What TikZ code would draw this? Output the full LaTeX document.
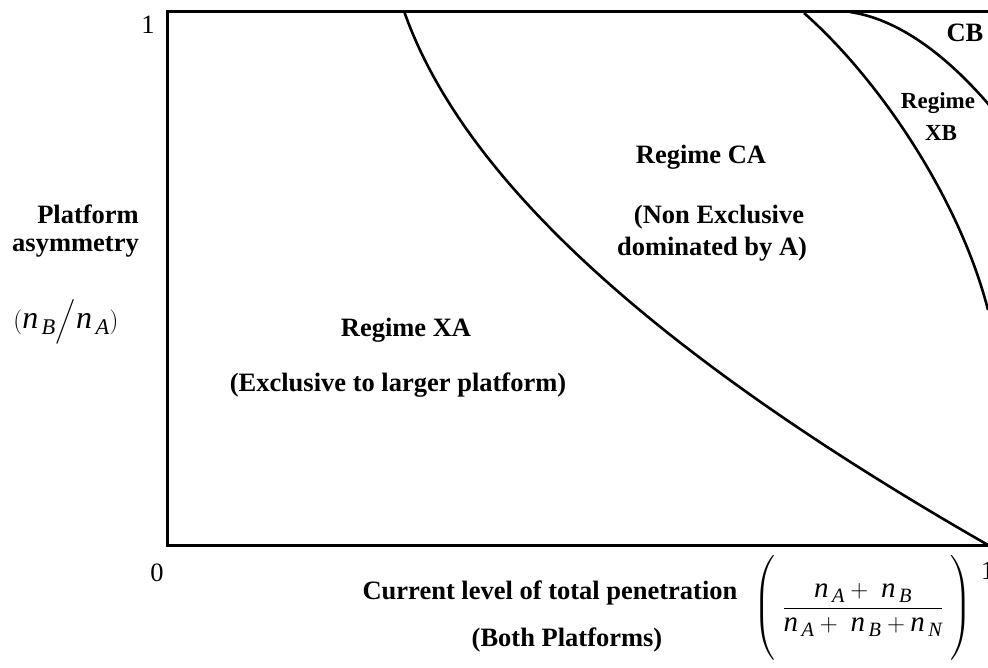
\documentclass[tikz,border=0pt]{standalone}
\usepackage{fontspec}
\setmainfont{Liberation Serif}
\usepackage{amsmath}
\begin{document}
\begin{tikzpicture}[x=1pt,y=-1pt,
  lbl/.style={font=\fontsize{26.5}{31}\selectfont\bfseries, inner sep=0pt, align=center},
  num/.style={font=\fontsize{26.5}{31}\selectfont, inner sep=0pt},
  frame/.style={line width=3pt},
  bound/.style={line width=2.6pt, line join=round}]
\useasboundingbox (0,0) rectangle (988,667);
\clip (0,0) rectangle (988,667);
% frame
\draw[frame] (1000,11) -- (167,11) -- (167,545) -- (1000,545);
% boundaries
\draw[bound] (404,11) .. controls (470,200) and (700,380) .. (988,545);
\draw[bound] (804,13) .. controls (880,80) and (960,200) .. (988,310);
\draw[bound] (850,12) .. controls (905,20) and (955,65) .. (990,106);
% axis ticks
\node[num] (one) at (148,25) {1};
\node[num] (zero) at (157,573) {0};
\node[num, anchor=west] (onex) at (981,571) {1};
% y label
\node[lbl, anchor=east] (plat) at (139,214) {Platform};
\node[lbl, anchor=east] (asym) at (139,247) {asymmetry};
\node[num, font=\fontsize{32}{36}\selectfont] (ratio) at (66,322) {$(\mathit{n}_{\,\mathit{B}}\Big/\mathit{n}_{\,\mathit{A}})$};
% regions
\node[lbl] (xa) at (406,330) {Regime XA};
\node[lbl] (xad) at (398,385) {(Exclusive to larger platform)};
\node[lbl] (ca) at (701,157) {Regime CA};
\node[lbl] (cad1) at (719,217) {(Non Exclusive};
\node[lbl] (cad2) at (712,249) {dominated by A)};
\node[lbl] (cb) at (965,33) {CB};
\node[lbl, font=\fontsize{23}{27}\selectfont\bfseries] (xb1) at (938,103) {Regime};
\node[lbl, font=\fontsize{23}{27}\selectfont\bfseries] (xb2) at (941,133) {XB};
% x label
\node[lbl] (cur) at (550,593) {Current level of total penetration};
\node[lbl] (both) at (567,640) {(Both Platforms)};
\node[num, font=\fontsize{29}{34}\selectfont] (frac) at (863,608) {$\left(\rule[-42pt]{0pt}{84pt}\;\dfrac{\;\mathit{n}_{\,\mathit{A}}+\ \mathit{n}_{\,\mathit{B}}\;}{\mathit{n}_{\,\mathit{A}}+\ \mathit{n}_{\,\mathit{B}}+\mathit{n}_{\,\mathit{N}}}\;\right)$};
\end{tikzpicture}
\end{document}
